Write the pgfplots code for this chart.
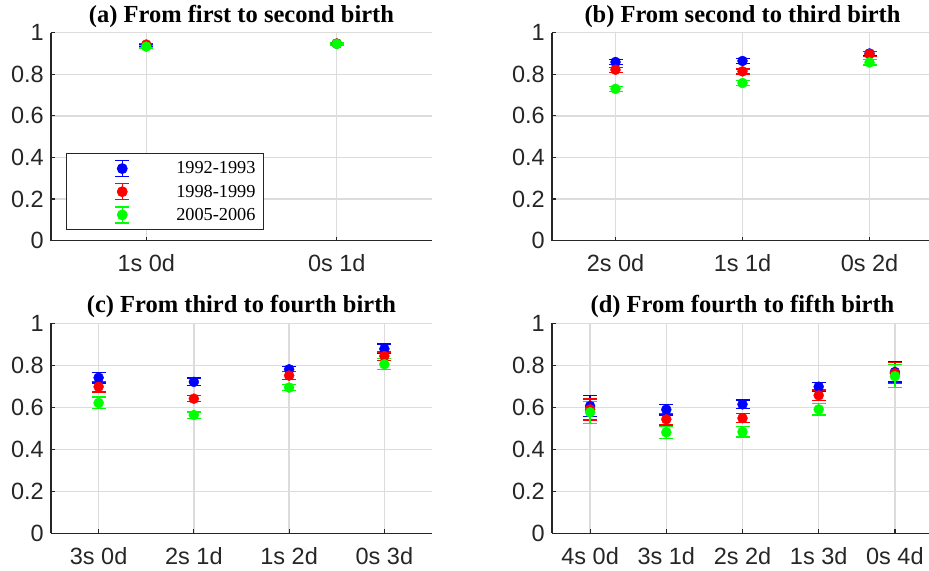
\documentclass[border=0pt]{standalone}
\usepackage{fontspec}
\usepackage{pgfplots}
\usepackage{pgfplotstable}
\pgfplotsset{compat=1.18}
\setmainfont{Liberation Serif}
\newfontfamily\sansf{Liberation Sans}
\definecolor{axgray}{RGB}{38,38,38}
\definecolor{gridgray}{RGB}{220,220,220}

% x  b  be  r  re  g  ge
\pgfplotstableread{
x b be r re g ge
1 0.938 0.007 0.943 0.006 0.933 0.006
2 0.947 0.006 0.948 0.006 0.946 0.005
}\tabA
\pgfplotstableread{
x b be r re g ge
1 0.859 0.012 0.822 0.012 0.730 0.012
2 0.864 0.012 0.814 0.012 0.758 0.012
3 0.900 0.010 0.897 0.012 0.857 0.013
}\tabB
\pgfplotstableread{
x b be r re g ge
1 0.741 0.025 0.698 0.025 0.621 0.028
2 0.721 0.018 0.641 0.015 0.563 0.015
3 0.781 0.012 0.751 0.018 0.694 0.015
4 0.878 0.023 0.844 0.020 0.805 0.026
}\tabC
\pgfplotstableread{
x b be r re g ge
1 0.606 0.050 0.590 0.050 0.576 0.053
2 0.589 0.025 0.543 0.027 0.481 0.029
3 0.614 0.021 0.548 0.022 0.483 0.024
4 0.698 0.021 0.657 0.025 0.590 0.027
5 0.768 0.047 0.762 0.050 0.748 0.055
}\tabD

\pgfplotsset{
  every axis title shift=0pt,
  panel/.style={
    scale only axis, anchor=south west,
    width=381bp,
    ymin=0, ymax=1, ytick={0,0.2,...,1},
    xmin=0.5, xtick=data,
    axis x line=bottom, axis y line=left,
    axis line style={axgray, line width=1.2bp, -},
    tick align=inside, major tick length=4bp,
    tick style={axgray, line width=1.2bp},
    grid=major, major grid style={gridgray, line width=1.4bp},
    /pgf/number format/assume math mode=true,
    ticklabel style={font=\sansf\fontsize{23.5bp}{28bp}\selectfont, text=axgray, inner sep=0pt},
    yticklabel style={xshift=-7bp},
    xticklabel style={yshift=-14bp},
    title style={font=\bfseries\fontsize{24.5bp}{29bp}\selectfont, at={(0.5,1)}, anchor=base, yshift=10.5bp, inner sep=0pt},
  },
  ser/.style={only marks, mark=*, mark size=5bp, color=#1, mark options={fill=#1, draw=#1},
    error bars/y dir=both, error bars/y explicit,
    error bars/error bar style={#1, line width=1.3bp},
    error bars/error mark options={#1, line width=1.3bp, mark size=7bp, rotate=90}},
  errleg/.style={legend image code/.code={
    \path[draw=none, fill=none] (-50bp,0bp) -- (52bp,0bp);
    \draw[#1, line width=1.3bp] (0bp,-8bp) -- (0bp,8bp)
      (-7bp,-8bp) -- (7bp,-8bp) (-7bp,8bp) -- (7bp,8bp);
    \fill[#1] (0bp,0bp) circle (5bp);
  }},
}

\begin{document}
\begin{tikzpicture}
\path[use as bounding box] (0,0) rectangle (929bp,571bp);

% (a)
\begin{axis}[panel, at={(51bp,330.3bp)}, height=208bp, xmax=2.5,
  xticklabels={1s 0d, 0s 1d},
  title={(a) From first to second birth},
  legend cell align=right,
  legend style={at={(0.039,0.051)}, anchor=south west, draw=axgray, line width=0.8bp,
    fill=white, font=\fontsize{18.3bp}{22bp}\selectfont, inner xsep=6bp, inner ysep=6bp,
    row sep=5.5bp},
]
\addlegendimage{errleg=blue}
\addlegendimage{errleg=red}
\addlegendimage{errleg=green}
\addplot+[ser=blue, forget plot] table[x=x, y=b, y error=be] {\tabA};
\addplot+[ser=red, forget plot] table[x=x, y=r, y error=re] {\tabA};
\addplot+[ser=green, forget plot] table[x=x, y=g, y error=ge] {\tabA};
\legend{1992-1993, 1998-1999, 2005-2006}
\end{axis}

% (b)
\begin{axis}[panel, at={(552bp,330.3bp)}, height=208bp, xmax=3.5,
  xticklabels={2s 0d, 1s 1d, 0s 2d},
  title={(b) From second to third birth}]
\addplot+[ser=blue] table[x=x, y=b, y error=be] {\tabB};
\addplot+[ser=red] table[x=x, y=r, y error=re] {\tabB};
\addplot+[ser=green] table[x=x, y=g, y error=ge] {\tabB};
\end{axis}

% (c)
\begin{axis}[panel, at={(51bp,37.7bp)}, height=210bp, xmax=4.5,
  xticklabels={3s 0d, 2s 1d, 1s 2d, 0s 3d},
  title={(c) From third to fourth birth}]
\addplot+[ser=blue] table[x=x, y=b, y error=be] {\tabC};
\addplot+[ser=red] table[x=x, y=r, y error=re] {\tabC};
\addplot+[ser=green] table[x=x, y=g, y error=ge] {\tabC};
\end{axis}

% (d)
\begin{axis}[panel, at={(552bp,37.7bp)}, height=210bp, xmax=5.5,
  xticklabels={4s 0d, 3s 1d, 2s 2d, 1s 3d, 0s 4d},
  title={(d) From fourth to fifth birth}]
\addplot+[ser=blue] table[x=x, y=b, y error=be] {\tabD};
\addplot+[ser=red] table[x=x, y=r, y error=re] {\tabD};
\addplot+[ser=green] table[x=x, y=g, y error=ge] {\tabD};
\end{axis}
\end{tikzpicture}
\end{document}
